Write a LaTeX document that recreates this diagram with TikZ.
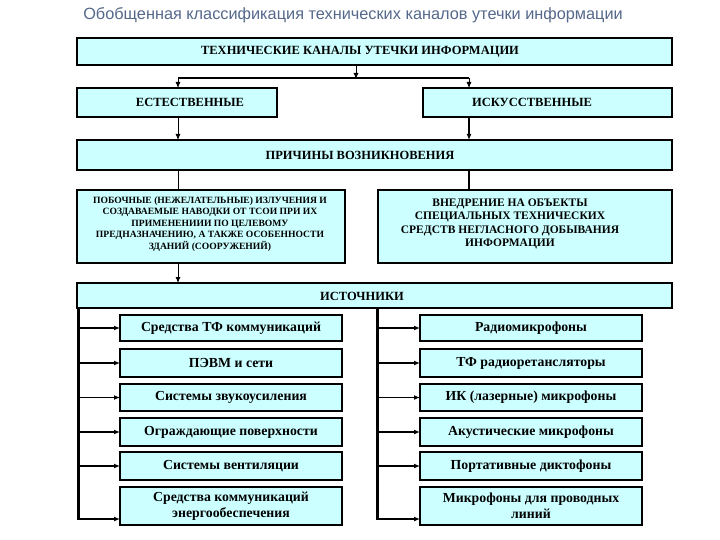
\documentclass[tikz,border=0pt]{standalone}
\usepackage{fontspec}
\setmainfont{Liberation Serif}
\newfontfamily\titlefont{Liberation Sans}
\usetikzlibrary{arrows.meta}
\definecolor{boxfill}{HTML}{CCFFFF}
\definecolor{titlecol}{HTML}{55688A}
\begin{document}
\begin{tikzpicture}[x=1pt,y=-1pt,
  bx/.style={draw=black,line width=1.3pt,fill=boxfill,inner sep=0pt},
  arr/.style={-{Latex[length=6pt,width=5pt]},line width=0.8pt},
  tarr/.style={-{Latex[length=6pt,width=5pt]},line width=1.2pt},
  txt/.style={font=\bfseries\fontsize{12.5}{14}\selectfont,align=center},
  rtxt/.style={font=\bfseries\fontsize{13.8}{16}\selectfont,align=center}]
\useasboundingbox (0,0) rectangle (720,540);
\node[font=\titlefont\fontsize{16.3}{19}\selectfont,text=titlecol] (title) at (353,15) {Обобщенная классификация технических каналов утечки информации};
% boxes
\draw[bx] (77,38) rectangle (672,65);
\node[txt] (top) at (360,51.5) {ТЕХНИЧЕСКИЕ КАНАЛЫ УТЕЧКИ ИНФОРМАЦИИ};
\draw[bx] (77,88) rectangle (277,117);
\node[txt] (nat) at (190,102.5) {ЕСТЕСТВЕННЫЕ};
\draw[bx] (423,88) rectangle (672,117);
\node[txt] (art) at (532,102.5) {ИСКУССТВЕННЫЕ};
\draw[bx] (77,140) rectangle (672,170);
\node[txt] (cause) at (360,155) {ПРИЧИНЫ ВОЗНИКНОВЕНИЯ};
\draw[bx] (77,190) rectangle (345,263);
\node[font=\bfseries\fontsize{9.6}{11.5}\selectfont,align=center] (side) at (210,224) {ПОБОЧНЫЕ (НЕЖЕЛАТЕЛЬНЫЕ) ИЗЛУЧЕНИЯ И\\СОЗДАВАЕМЫЕ НАВОДКИ ОТ ТСОИ ПРИ ИХ\\ПРИМЕНЕНИИИ ПО ЦЕЛЕВОМУ\\ПРЕДНАЗНАЧЕНИЮ, А ТАКЖЕ ОСОБЕННОСТИ\\ЗДАНИЙ (СООРУЖЕНИЙ)};
\draw[bx] (378,190) rectangle (672,263);
\node[font=\bfseries\fontsize{11.5}{13.5}\selectfont,align=center] (impl) at (510,224) {ВНЕДРЕНИЕ НА ОБЪЕКТЫ\\СПЕЦИАЛЬНЫХ ТЕХНИЧЕСКИХ\\СРЕДСТВ НЕГЛАСНОГО ДОБЫВАНИЯ\\ИНФОРМАЦИИ};
\draw[bx] (77,283) rectangle (672,308);
\node[txt] (src) at (362,296) {ИСТОЧНИКИ};
% connectors
\draw[line width=1.2pt] (178,78) -- (469,78);
\draw[arr] (356,65) -- (356,79);
\draw[arr] (178,78) -- (178,88);
\draw[arr] (469,78) -- (469,88);
\draw[arr] (178,117) -- (178,140);
\draw[tarr] (469,117) -- (469,140);
\draw[line width=0.8pt] (178,170) -- (178,190);
\draw[line width=1.2pt] (469,170) -- (469,190);
\draw[arr] (178,263) -- (178,283);
% left/right bus
\draw[line width=3pt] (78,308) -- (78,519);
\draw[line width=3pt] (377,308) -- (377,519);
\foreach \ya/\yb/\l/\r [count=\i] in {
 315/341/{Средства ТФ коммуникаций}/{Радиомикрофоны},
 349/377/{ПЭВМ и сети}/{ТФ радиоретансляторы},
 384/411/{Системы звукоусиления}/{ИК (лазерные) микрофоны},
 418/446/{Ограждающие поверхности}/{Акустические микрофоны},
 452/480/{Системы вентиляции}/{Портативные диктофоны},
 487/525/{Средства коммуникаций\\энергообеспечения}/{Микрофоны для проводных\\линий}}{
  \draw[bx] (120,\ya) rectangle (342,\yb);
  \node[rtxt] (l\i) at (231,{(\ya+\yb)/2}) {\l};
  \draw[bx] (420,\ya) rectangle (642,\yb);
  \node[rtxt] (r\i) at (531,{(\ya+\yb)/2}) {\r};
  \pgfmathsetmacro\ym{\i==6 ? 519 : (\ya+\yb)/2}
  \draw[tarr] (77,\ym) -- (120,\ym);
  \draw[tarr] (376,\ym) -- (420,\ym);
}
\end{tikzpicture}
\end{document}
